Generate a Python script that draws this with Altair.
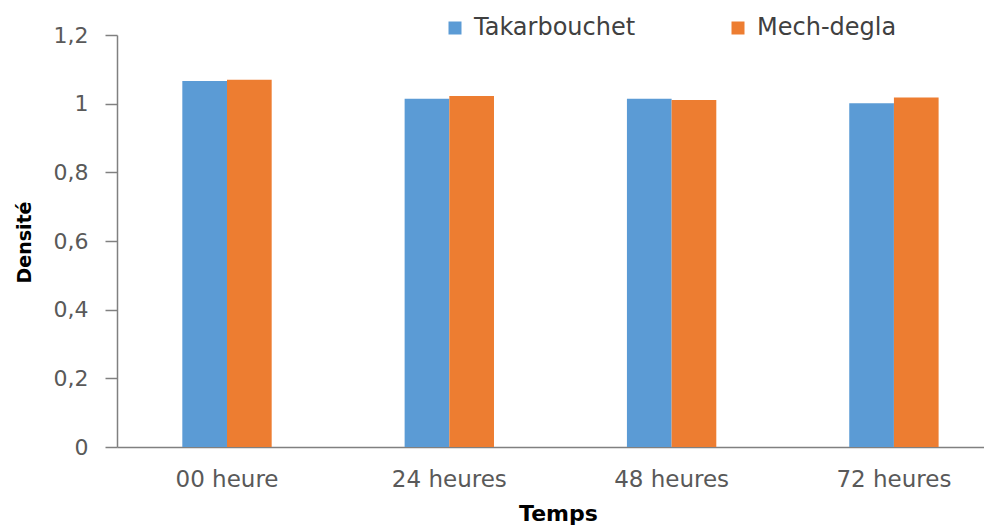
import altair as alt
import pandas as pd

categories = ["00 heure", "24 heures", "48 heures", "72 heures"]
series = ["Takarbouchet", "Mech-degla"]
takarbouchet = [1.066, 1.014, 1.014, 1.001]
mech_degla = [1.070, 1.022, 1.011, 1.018]
y_ticks = [0, 0.2, 0.4, 0.6, 0.8, 1.0, 1.2]
colors = ["#5B9BD5", "#ED7D31"]

rows = []
for i, c in enumerate(categories):
    rows.append({"Temps": c, "Variété": series[0], "Densité": takarbouchet[i]})
    rows.append({"Temps": c, "Variété": series[1], "Densité": mech_degla[i]})
df = pd.DataFrame(rows)

FONT = "DejaVu Sans"

chart = alt.Chart(df).mark_bar().encode(
    x=alt.X(
        "Temps:N",
        sort=categories,
        scale=alt.Scale(paddingInner=0.598, paddingOuter=0.249, align=0.59),
        axis=alt.Axis(
            title="Temps",
            labelAngle=0,
            ticks=False,
            labelPadding=21,
            labelFontSize=23,
            labelColor="#595959",
            labelFont=FONT,
            domainColor="#808080",
            domainWidth=1.5,
            titleFont=FONT,
            titleFontSize=22,
            titleFontWeight="bold",
            titleColor="#000000",
            titleX=441,
            titleY=73,
            titleAlign="center",
            titleBaseline="alphabetic",
        ),
    ),
    xOffset=alt.XOffset(
        "Variété:N",
        sort=series,
        scale=alt.Scale(paddingInner=0, paddingOuter=0),
    ),
    y=alt.Y(
        "Densité:Q",
        scale=alt.Scale(domain=[0, 1.2], nice=False),
        axis=alt.Axis(
            title="Densité",
            values=y_ticks,
            format=".1~f",
            labelExpr="replace(datum.label, '.', ',')",
            grid=False,
            tickSize=12,
            tickColor="#808080",
            tickWidth=1.5,
            labelPadding=17,
            labelFontSize=22,
            labelColor="#595959",
            labelFont=FONT,
            domainColor="#808080",
            domainWidth=1.5,
            titleFont=FONT,
            titleFontSize=19,
            titleFontWeight="bold",
            titleColor="#000000",
            titleX=-93,
            titleY=207,
            titleAngle=-90,
            titleAlign="center",
            titleBaseline="middle",
        ),
    ),
    color=alt.Color(
        "Variété:N",
        sort=series,
        scale=alt.Scale(domain=series, range=colors),
        legend=alt.Legend(
            title=None,
            orient="none",
            direction="horizontal",
            legendX=326,
            legendY=-19,
            symbolType="square",
            symbolSize=169,
            symbolStrokeWidth=0,
            labelFont=FONT,
            labelFontSize=24,
            labelColor="#404040",
            labelOffset=7,
            labelLimit=400,
            columnPadding=90,
        ),
    ),
).properties(
    width=867,
    height=412,
    background="white",
    autosize=alt.AutoSizeParams(type="none"),
    padding={"left": 109, "top": 27, "right": 0, "bottom": 80},
).configure_view(stroke=None)

chart.save("out.html", embed_options={"renderer": "svg", "actions": False})
